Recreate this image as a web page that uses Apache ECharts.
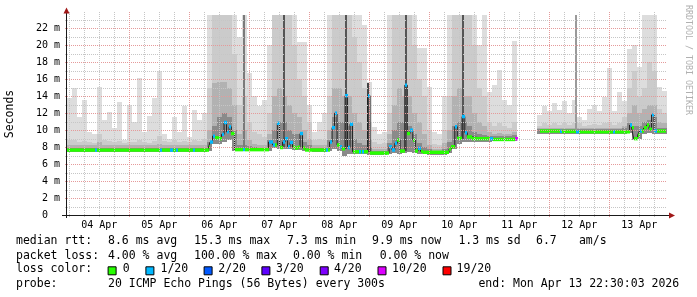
<!DOCTYPE html>
<html>
<head>
<meta charset="utf-8">
<script src="https://cdn.jsdelivr.net/npm/echarts@6.0.0/dist/echarts.min.js"></script>
<style>
html,body{margin:0;padding:0;background:#fff;}
#chart{width:697px;height:297px;}
</style>
</head>
<body>
<div id="chart"></div>
<script>
// ---------- DATA (hours since 04 Apr 00:00, values in ms) ----------
const dayLabels = ['04 Apr','05 Apr','06 Apr','07 Apr','08 Apr','09 Apr','10 Apr','11 Apr','12 Apr','13 Apr'];
const dayNoonHours = [12,36,60,84,108,132,156,180,204,228];
const dayMidnightHours = [24,48,72,96,120,144,168,192,216];
const sixHourHours = [0,6,12,18,30,36,42,54,60,66,78,84,90,102,108,114,126,132,138,150,156,162,174,180,186,198,204,210,222,228,234];
const yMajorTicks = [2,4,6,8,10,12,14,16,18,20,22];
const yMinorTicks = [1,3,5,7,9,11,13,15,17,19,21,23];

// smoke: 2-hour buckets, bucket i starts at hour -1 + 2*i
const SMOKE_FIRST_H = -1, SMOKE_STEP_H = 2;
const smokeMax = [
 13.8,15.0,11.5,13.6,9.8,9.6,15.1,11.2,12.1,10.3,
 13.3,8.8,13.0,11.0,16.2,9.8,11.7,13.8,17.0,9.6,
 9.0,11.6,9.8,12.8,9.2,12.4,11.2,12.0,23.6,23.6,
 23.6,23.6,23.6,23.6,21.0,23.6,16.7,14.0,12.8,13.6,
 20.0,23.6,23.6,23.6,23.6,23.6,20.4,20.4,13.0,9.8,
 11.0,12.0,23.6,23.6,23.6,23.6,23.6,23.6,23.6,22.4,
 15.7,10.4,9.6,9.8,23.6,23.6,23.6,23.6,23.6,23.6,
 19.7,19.7,15.1,9.8,9.6,14.0,23.6,23.6,23.6,23.6,
 23.6,23.6,20.0,23.6,14.5,15.3,17.1,13.6,13.0,20.5,
 null,null,null,null,11.8,12.8,12.2,13.2,12.4,13.4,
 12.0,13.6,11.5,11.2,12.5,13.0,12.2,13.9,17.3,12.2,
 14.5,13.4,19.6,20.0,17.5,23.6,23.6,23.6,15.1,14.6
];
const smokeHi2 = [
 8.8,8.8,8.6,8.7,8.6,8.5,9.6,8.8,8.7,8.6,
 8.7,8.5,8.6,8.6,8.8,8.6,8.5,8.7,9.3,8.7,
 8.6,8.8,8.6,8.7,8.6,8.8,8.7,8.9,15.0,23.6,
 23.6,23.6,23.6,19.0,13.0,14.0,11.0,9.8,9.5,9.2,
 12.0,23.6,23.6,23.6,23.6,20.0,16.0,14.0,11.0,8.8,
 9.0,8.8,14.0,23.6,23.6,23.6,23.6,21.0,18.0,15.0,
 11.0,8.6,8.4,8.5,12.0,23.6,23.6,23.6,23.6,20.0,
 16.0,14.0,10.0,8.4,8.3,10.0,14.0,23.6,23.6,23.6,
 23.6,20.0,15.0,14.0,11.0,10.5,10.8,10.5,10.3,11.0,
 null,null,null,null,10.5,10.8,10.6,10.8,10.6,10.8,
 10.6,10.8,10.8,10.5,10.6,10.7,10.6,10.8,11.0,10.6,
 10.8,11.5,15.0,17.0,14.0,15.0,18.0,17.0,12.5,12.0
];
const smokeHi3 = [
 8.2,8.2,8.2,8.2,8.2,8.2,8.6,8.2,8.2,8.2,
 8.2,8.2,8.2,8.2,8.3,8.2,8.2,8.2,8.4,8.2,
 8.2,8.2,8.2,8.2,8.2,8.2,8.2,8.3,10.0,15.5,
 15.7,15.7,15.0,13.0,9.5,10.0,8.8,8.4,8.3,8.3,
 9.5,14.0,15.0,14.0,13.0,12.0,11.5,10.0,9.0,8.2,
 8.2,8.2,10.0,15.0,15.0,14.0,14.0,12.0,11.0,10.0,
 9.0,7.8,7.8,7.8,9.5,13.0,15.0,14.0,14.0,12.0,
 11.0,9.5,8.2,7.8,7.8,8.5,10.0,14.0,15.0,14.0,
 14.0,12.0,11.0,10.5,9.8,9.6,9.7,9.6,9.6,9.8,
 null,null,null,null,10.2,10.3,10.3,10.3,10.3,10.3,
 10.3,10.3,10.3,10.2,10.2,10.3,10.2,10.3,10.3,10.2,
 10.3,10.5,12.0,13.0,12.0,12.5,13.0,13.0,11.0,10.8
];
const smokeHi4 = [
 7.95,7.95,7.95,7.95,7.95,7.95,7.95,7.95,7.95,7.95,
 7.95,7.95,7.95,7.95,7.95,7.95,7.95,7.95,7.95,7.95,
 7.95,7.95,7.95,7.95,7.95,7.95,7.95,7.95,8.6,10.5,
 11.5,12.0,11.5,10.0,8.2,8.3,8.1,8.0,7.95,7.95,
 8.8,10.0,11.0,11.0,10.0,9.5,9.6,8.6,8.2,7.95,
 7.95,7.95,8.8,11.5,11.0,11.0,10.5,9.0,8.5,8.2,
 8.0,7.6,7.55,7.55,8.5,10.0,11.0,11.0,10.5,9.5,
 8.5,8.0,7.8,7.6,7.6,7.8,8.6,10.5,11.0,11.0,
 10.5,9.8,9.5,9.4,9.3,9.3,9.3,9.3,9.3,9.4,
 null,null,null,null,10.1,10.1,10.1,10.1,10.1,10.1,
 10.1,10.1,10.1,10.1,10.1,10.1,10.1,10.1,10.1,10.1,
 10.1,10.2,10.8,10.5,10.5,11.0,11.2,11.5,10.3,10.2
];
const smokeLo = [
 7.45,7.45,7.45,7.45,7.45,7.45,7.45,7.45,7.45,7.45,
 7.45,7.45,7.45,7.45,7.45,7.45,7.45,7.45,7.45,7.45,
 7.45,7.45,7.45,7.45,7.45,7.45,7.45,7.45,7.6,8.4,
 8.4,8.6,8.8,7.6,7.5,7.5,7.5,7.5,7.5,7.5,
 7.6,7.9,7.8,7.8,7.8,7.7,7.7,7.5,7.5,7.45,
 7.45,7.45,7.6,7.8,7.6,7.0,7.2,7.2,7.2,7.2,
 7.1,7.1,7.1,7.1,7.2,7.3,7.2,7.3,7.4,7.3,
 7.2,7.2,7.1,7.1,7.1,7.1,7.3,7.8,8.4,8.6,
 8.6,8.6,8.6,8.6,8.6,8.7,8.7,8.7,8.7,8.7,
 null,null,null,null,9.6,9.6,9.6,9.6,9.6,9.6,
 9.6,9.6,9.6,9.6,9.6,9.6,9.6,9.6,9.6,9.6,
 9.6,9.6,9.7,8.8,9.0,9.6,9.7,9.6,9.6,9.6
];
// narrow smoke spikes (single 5-minute samples with all pings high)
const spikeHours = [69.9, 85.7, 110.5, 119.6, 134.5, 157.5, 202.5];
const spikeBase  = [7.7, 8.0, 7.8, 7.4, 7.6, 9.0, 9.8];
const spikeTop   = [23.6, 23.6, 23.6, 15.5, 23.6, 23.6, 23.6];
const spikeShade = ['#7a7a7a','#555555','#555555','#444444','#555555','#555555','#9a9a9a'];

// median rtt: value holds from medHours[k] until medHours[k+1]; null = no data
const medHours = [-1.0,10.3,11.2,36.1,37.1,40.3,41.5,42.5,43.3,49.4,50.1,
 55.7,56.3,57.3,58.1,59.9,60.9,61.9,62.9,63.9,64.8,66.1,69.5,70.3,
 79.7,81.3,82.3,83.2,84.1,85.3,86.3,87.3,88.3,89.3,90.3,91.3,92.3,93.3,94.3,102.5,103.3,
 104.1,105.1,106.1,107.1,108.1,109.1,110.3,111.3,112.3,113.3,115.7,116.7,117.1,117.9,119.3,120.3,
 127.9,129.1,130.2,131.2,132.3,134.2,135.2,136.3,137.4,138.4,139.5,140.5,141.5,
 151.9,152.8,154.2,155.2,157.1,158.2,159.2,161.1,168.3,169.4,178.4,179.5,
 188.2,196.3,197.1,202.5,203.7,217.5,218.3,224.1,224.9,225.7,227.3,228.1,229.1,229.9,230.9,231.9,232.9,233.9,234.9,238.5];
const medMs = [7.65,7.65,7.65,7.65,7.65,7.65,7.65,7.65,7.65,7.65,7.65,
 8.0,8.6,9.3,9.1,9.0,9.5,10.9,9.8,10.4,9.6,7.7,7.7,7.7,
 8.6,8.25,8.25,10.8,7.95,8.6,9.0,8.05,8.55,8.0,7.9,8.0,9.6,7.9,7.66,7.66,7.66,
 8.6,10.3,12.0,8.25,8.05,7.8,14.06,7.95,10.7,7.46,7.46,7.46,7.46,7.46,14.06,7.3,
 8.05,7.66,8.45,8.84,7.54,15.3,9.6,10.0,8.84,7.54,7.86,7.5,7.39,
 7.78,8.05,10.4,9.04,11.6,9.7,9.2,9.0,9.0,8.9,9.0,null,
 9.9,9.85,9.85,9.8,9.8,9.8,9.8,10.6,10.3,9.0,9.4,9.9,9.9,10.3,10.6,10.1,11.8,9.9,9.9,null];
const medLoss = [0,1,0,1,0,1,0,1,0,1,0,
 0,1,1,0,0,1,1,1,1,0,0,1,0,
 1,1,0,1,0,1,1,1,1,0,0,0,1,0,0,1,0,
 1,1,1,0,1,0,1,1,1,0,1,0,1,0,1,0,
 1,1,1,0,0,1,0,1,0,0,1,0,0,
 0,0,1,0,1,1,0,0,1,0,10,0,
 0,1,0,1,0,1,0,1,0,0,0,1,0,0,0,0,1,1,0,0];

const lossThresholds = [0,1,2,3,4,10,19];
const lossLabels = ['0','1/20','2/20','3/20','4/20','10/20','19/20'];
const lossColors = ['#26ff00','#00b8ff','#0059ff','#5e00ff','#7e00ff','#dd00ff','#ff0000'];

const legendRows = [
  ['median rtt:','8.6 ms avg','15.3 ms max','7.3 ms min','9.9 ms now','1.3 ms sd','6.7','am/s'],
  ['packet loss:','4.00 % avg','100.00 % max','0.00 % min','0.00 % now'],
  ['probe:','20 ICMP Echo Pings (56 Bytes) every 300s','end: Mon Apr 13 22:30:03 2026']
];

// ---------- LAYOUT ----------
const FONT = '"DejaVu Sans Mono", monospace';
const GRID = {left:67, top:15, width:600, height:200};
const X_MIN = -0.92, X_MAX = 239.08, Y_MAX = 23.57;
const SMOKE_SHADES = ['#dddddd','#cbcbcb','#b2b2b2','#8a8a8a'];
const legendX = [
  [16,108,194,287,372,458.4,536,578.9],
  [16,108,194,293,379.7],
  [16,108,478.4]
];
const legendY = [241, 255.7, 284.3];
const lossRowY = 269.3;
const lossBoxX = [107.6,145.4,203.6,261.4,319.7,377.5,442.5];
const lossTextX = [122.7,160.5,218.3,276,334,392,456.6];

function lossColor(l) {
  let c = lossColors[0];
  for (let i = 0; i < lossThresholds.length; i++) if (l >= lossThresholds[i]) c = lossColors[i];
  return c;
}

// build data for series
const smokeData = [];
for (let i = 0; i < smokeMax.length; i++) {
  if (smokeMax[i] == null) continue;
  const t0 = SMOKE_FIRST_H + SMOKE_STEP_H * i;
  smokeData.push([t0, t0 + SMOKE_STEP_H, smokeLo[i], smokeMax[i], smokeHi2[i], smokeHi3[i], smokeHi4[i]]);
}
const spikeData = spikeHours.map((t, i) => [t, spikeBase[i], spikeTop[i], i]);
const medLine = [], medBand = [];
for (let k = 0; k < medHours.length; k++) {
  if (medMs[k] == null) {
    if (k > 0 && medMs[k-1] != null) medLine.push([medHours[k], medMs[k-1]]);
    medLine.push([medHours[k], '-']);
    continue;
  }
  medLine.push([medHours[k], medMs[k]]);
  if (k + 1 < medHours.length) medBand.push([medHours[k], medHours[k+1], medMs[k], medLoss[k]]);
}
const hGridData = yMinorTicks.map(v => [X_MIN, v, 0]).concat(yMajorTicks.map(v => [X_MIN, v, 1]));
const vGridData = sixHourHours.map(t => [t, 0, 0]).concat(dayMidnightHours.map(t => [t, 0, 1]));

function renderSmoke(params, api) {
  const t0 = api.value(0), t1 = api.value(1), lo = api.value(2);
  const xa = Math.round(api.coord([t0, 0])[0]);
  const xb = Math.round(api.coord([t1, 0])[0]);
  const yLo = Math.round(api.coord([t0, lo])[1]);
  const children = [];
  for (let j = 0; j < 4; j++) {
    const hi = Math.min(api.value(3 + j), Y_MAX);
    const yHi = Math.round(api.coord([t0, hi])[1]);
    if (yLo > yHi) children.push({type:'rect', shape:{x:xa, y:yHi, width:xb - xa, height:yLo - yHi}, style:{fill:SMOKE_SHADES[j]}});
  }
  return {type:'group', children};
}
function renderSpike(params, api) {
  const a = api.coord([api.value(0), Math.min(api.value(2), Y_MAX)]);
  const b = api.coord([api.value(0), api.value(1)]);
  const x = Math.round(a[0]) - 1;
  return {type:'rect', shape:{x, y:Math.round(a[1]), width:2, height:Math.round(b[1]) - Math.round(a[1])},
    style:{fill:spikeShade[api.value(3)]}};
}
function renderBand(params, api) {
  const a = api.coord([api.value(0), api.value(2)]);
  const b = api.coord([api.value(1), api.value(2)]);
  const xa = Math.round(a[0]), xb = Math.round(b[0]);
  return {type:'rect', shape:{x:xa, y:a[1] - 1.7, width:Math.max(1, xb - xa), height:3.4}, style:{fill:lossColor(api.value(3))}};
}
function renderHGrid(params, api) {
  const cs = params.coordSys;
  const y = Math.round(api.coord([X_MIN, api.value(1)])[1]) + 0.5;
  const major = api.value(2) === 1;
  return {type:'line', shape:{x1:cs.x - 2, y1:y, x2:cs.x + cs.width, y2:y},
    style:{stroke: major ? '#e59a9a' : '#c6c6c6', lineWidth:1, lineDash:[1,1]}};
}
function renderVGrid(params, api) {
  const cs = params.coordSys;
  const x = Math.round(api.coord([api.value(0), 0])[0]) + 0.5;
  const major = api.value(2) === 1;
  return {type:'line', shape:{x1:x, y1:cs.y - 3, x2:x, y2:cs.y + cs.height + 2},
    style:{stroke: major ? '#e59a9a' : '#c6c6c6', lineWidth:1, lineDash:[1,1]}};
}

// graphic: texts, axis lines, arrows, legend boxes
const graphics = [];
const txt = (x, y, text, size, extra) => Object.assign({type:'text', x, y, z:100, silent:true,
  style:{text, font: size + 'px ' + FONT, fill:'#000', align:'left', verticalAlign:'middle', textAlign:'left', textVerticalAlign:'middle'}}, extra || {});
legendRows.forEach((row, r) => row.forEach((s, j) => graphics.push(txt(legendX[r][j], legendY[r], s, 11.5))));
graphics.push(txt(16, lossRowY, 'loss color:', 11.5));
lossLabels.forEach((s, i) => {
  graphics.push({type:'rect', z:100, silent:true, shape:{x:lossBoxX[i] + 0.5, y:lossRowY - 2.5, width:8, height:8},
    style:{fill:lossColors[i], stroke:'#000', lineWidth:1}});
  graphics.push(txt(lossTextX[i], lossRowY, s, 11.5));
});
graphics.push({type:'text', x:10.5, y:114, rotation:Math.PI/2, z:100, silent:true,
  style:{text:'Seconds', font:'11.5px ' + FONT, fill:'#000', align:'center', verticalAlign:'middle', textAlign:'center', textVerticalAlign:'middle'}});
graphics.push({type:'text', x:688, y:60, rotation:-Math.PI/2, z:100, silent:true,
  style:{text:'RRDTOOL / TOBI OETIKER', font:'8.3px ' + FONT, fill:'#b0b0b0', align:'center', verticalAlign:'middle', textAlign:'center', textVerticalAlign:'middle'}});
graphics.push({type:'line', z:100, silent:true, shape:{x1:62, y1:215.5, x2:669, y2:215.5}, style:{stroke:'#1a1a1a', lineWidth:1}});
graphics.push({type:'line', z:100, silent:true, shape:{x1:66.5, y1:218, x2:66.5, y2:13}, style:{stroke:'#1a1a1a', lineWidth:1}});
graphics.push({type:'polygon', z:100, silent:true, shape:{points:[[669,212.5],[675,215.5],[669,218.5]]}, style:{fill:'#a01818'}});
graphics.push({type:'polygon', z:100, silent:true, shape:{points:[[63.5,13.5],[66.5,7.5],[69.5,13.5]]}, style:{fill:'#a01818'}});

const chart = echarts.init(document.getElementById('chart'), null, {renderer:'canvas'});
chart.setOption({
  animation:false,
  backgroundColor:'#ffffff',
  grid:Object.assign({containLabel:false}, GRID),
  xAxis:{type:'value', min:X_MIN, max:X_MAX,
    axisLine:{show:false}, axisTick:{show:false}, splitLine:{show:false},
    axisLabel:{customValues:dayNoonHours, margin:5, color:'#000', fontFamily:FONT, fontSize:10,
      formatter:v => { const i = dayNoonHours.indexOf(Math.round(v)); return i >= 0 ? dayLabels[i] : ''; }}},
  yAxis:{type:'value', min:0, max:Y_MAX, interval:2,
    axisLine:{show:false}, axisTick:{show:false}, splitLine:{show:false},
    axisLabel:{margin:7, color:'#000', fontFamily:FONT, fontSize:10, showMaxLabel:false,
      formatter:v => v === 0 ? '0  ' : (v % 2 === 0 ? v + ' m' : '')}},
  series:[
    {type:'custom', name:'smoke', renderItem:renderSmoke, data:smokeData, clip:true, silent:true, z:2,
      encode:{x:[0,1], y:[2,3,4,5,6]}},
    {type:'custom', name:'spikes', renderItem:renderSpike, data:spikeData, clip:true, silent:true, z:2,
      encode:{x:0, y:[1,2]}},
    {type:'line', name:'median', data:medLine, step:'end', showSymbol:false, symbol:'none', connectNulls:false,
      lineStyle:{color:'#202020', width:1}, silent:true, z:3, clip:true},
    {type:'custom', name:'loss', renderItem:renderBand, data:medBand, clip:true, silent:true, z:4,
      encode:{x:[0,1], y:2}},
    {type:'custom', name:'hgrid', renderItem:renderHGrid, data:hGridData, silent:true, z:5, encode:{x:0, y:1}},
    {type:'custom', name:'vgrid', renderItem:renderVGrid, data:vGridData, silent:true, z:5, encode:{x:0, y:1}}
  ],
  graphic:{elements:graphics}
});
</script>
</body>
</html>
